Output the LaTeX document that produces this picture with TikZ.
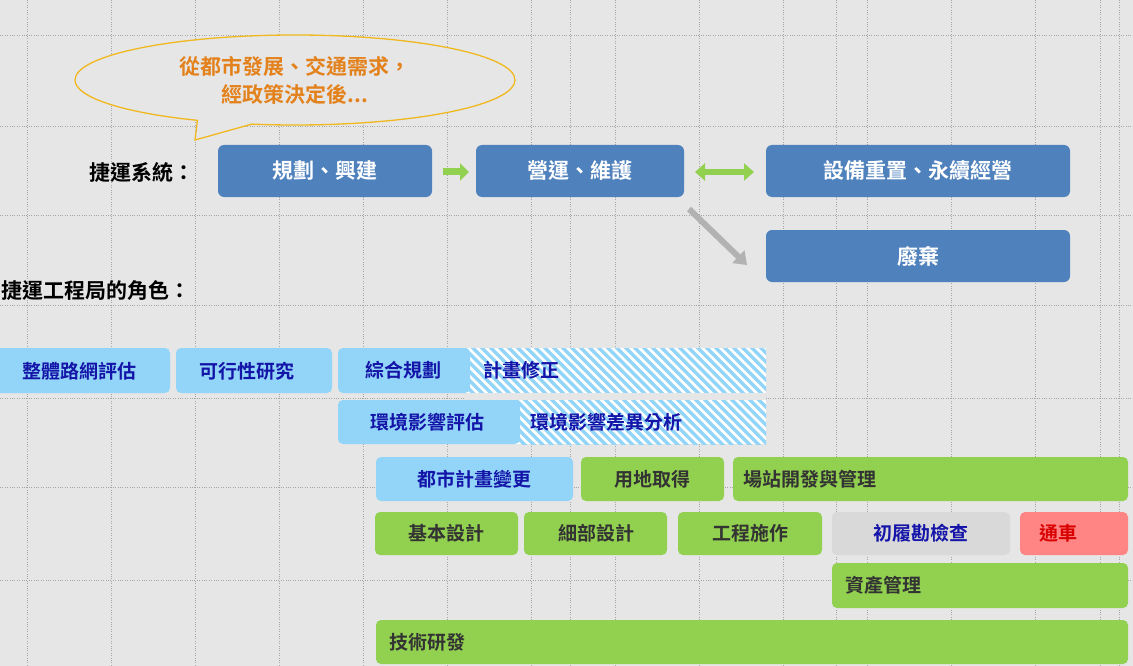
\documentclass[tikz,border=0pt]{standalone}
\usepackage{fontspec}
\setmainfont{Noto Sans CJK TC}[BoldFont={Noto Sans CJK TC Bold}]
\usetikzlibrary{arrows.meta,shapes.callouts}
\definecolor{bg}{HTML}{E6E6E6}
\definecolor{sblue}{HTML}{4F81BD}
\definecolor{lblue}{HTML}{92D5F8}
\definecolor{dblue}{HTML}{1414A8}
\definecolor{lgreen}{HTML}{92D050}
\definecolor{gtext}{HTML}{333333}
\definecolor{lgray}{HTML}{D9D9D9}
\definecolor{lred}{HTML}{FF8585}
\definecolor{orng}{HTML}{E3821C}
\definecolor{ylw}{HTML}{F0B81E}
\begin{document}
\begin{tikzpicture}[x=1pt,y=-1pt,
  sys/.style={fill=sblue,rounded corners=6pt,text=white,font=\bfseries\fontsize{21}{24}\selectfont},
  bar/.style={rounded corners=5pt,font=\bfseries\fontsize{19}{22}\selectfont},
  bb/.style={bar,fill=lblue,text=dblue},
  gb/.style={bar,fill=lgreen,text=gtext},
  lab/.style={font=\bfseries\fontsize{21}{24}\selectfont}]
\useasboundingbox (0,0) rectangle (1133,666);
\fill[bg] (0,0) rectangle (1133,666);
% grid
\foreach \x in {27,111,195,279,363,447,531,570,615,699,783,836,867,951,1035,1100,1119}
  \draw[gray!70,dotted] (\x,0) -- (\x,666);
\foreach \y in {35,126,215,305,398,487,580}
  \draw[gray!70,dotted] (0,\y) -- (1133,\y);
% callout
\node[ellipse callout,draw=ylw,line width=1.3pt,fill=bg,minimum width=440pt,minimum height=90pt,
  callout absolute pointer={(195,140)},align=center,text=orng,
  font=\bfseries\fontsize{21}{28}\selectfont] (call) at (295,80) {從都市發展、交通需求，\\經政策決定後...};
% system row
\node[lab,anchor=east] (sl) at (198,172) {捷運系統：};
\path[sys] (218,145) rectangle (432,197); \node[sys,fill=none] (s1) at (325,171) {規劃、興建};
\path[sys] (476,145) rectangle (684,197); \node[sys,fill=none] (s2) at (580,171) {營運、維護};
\path[sys] (766,145) rectangle (1070,197); \node[sys,fill=none] (s3) at (918,171) {設備重置、永續經營};
\path[sys] (766,230) rectangle (1070,282); \node[sys,fill=none] (s4) at (918,256) {廢棄};
\draw[lgreen,line width=7pt,-{Triangle[length=9pt,width=17pt]}] (443,172) -- (469,172);
\draw[lgreen,line width=6pt,{Triangle[length=10pt,width=17pt]}-{Triangle[length=10pt,width=17pt]}] (695,172) -- (754,172);
\draw[gray!60,line width=6pt,-{Triangle[length=12pt,width=17pt]}] (689,209) -- (747,265);
\node[lab,anchor=west] (rl) at (-2,290) {捷運工程局的角色：};
% hatched
\begin{scope}
\clip (465,348) rectangle (766,444);
\fill[white] (465,348) rectangle (766,444);
\foreach \i in {0,...,45} \draw[lblue,line width=3.5pt] (420+\i*9,340) -- ++(110,110);
\fill[bg] (465,393) rectangle (766,400);
\end{scope}
\node[bar,text=dblue,anchor=west] (h1) at (480,370) {計畫修正};
\node[bar,text=dblue,anchor=west] (h2) at (527,422) {環境影響差異分析};
% row1
\path[bb] (-6,348) rectangle (170,393); \node[bar,text=dblue] (b1) at (80,371) {整體路網評估};
\path[bb] (176,348) rectangle (332,393); \node[bar,text=dblue] (b2) at (247,371) {可行性研究};
\path[bb] (338,348) rectangle (470,393); \node[bar,text=dblue] (b3) at (403,370) {綜合規劃};
\path[bb] (338,400) rectangle (520,444); \node[bar,text=dblue] (b4) at (427,422) {環境影響評估};
% row3
\path[bb] (376,457) rectangle (573,501); \node[bar,text=dblue] (c1) at (474,479) {都市計畫變更};
\path[gb] (581,457) rectangle (724,501); \node[bar,text=gtext] (c2) at (652,479) {用地取得};
\path[gb] (733,457) rectangle (1128,501); \node[bar,text=gtext,anchor=west] (c3) at (740,479) {場站開發與管理};
% row4
\path[gb] (375,512) rectangle (518,555); \node[bar,text=gtext] (d1) at (446,533) {基本設計};
\path[gb] (524,512) rectangle (667,555); \node[bar,text=gtext] (d2) at (596,533) {細部設計};
\path[gb] (678,512) rectangle (822,555); \node[bar,text=gtext] (d3) at (750,533) {工程施作};
\path[bar,fill=lgray] (832,512) rectangle (1010,555); \node[bar,text=dblue] (d4) at (921,533) {初履勘檢查};
\path[bar,fill=lred] (1020,512) rectangle (1128,555); \node[bar,text=red!85!black] (d5) at (1058,533) {通車};
% row5,6
\path[gb] (832,563) rectangle (1128,608); \node[bar,text=gtext,anchor=west] (e1) at (842,585) {資產管理};
\path[gb] (376,620) rectangle (1128,664); \node[bar,text=gtext,anchor=west] (f1) at (386,642) {技術研發};
\end{tikzpicture}
\end{document}
